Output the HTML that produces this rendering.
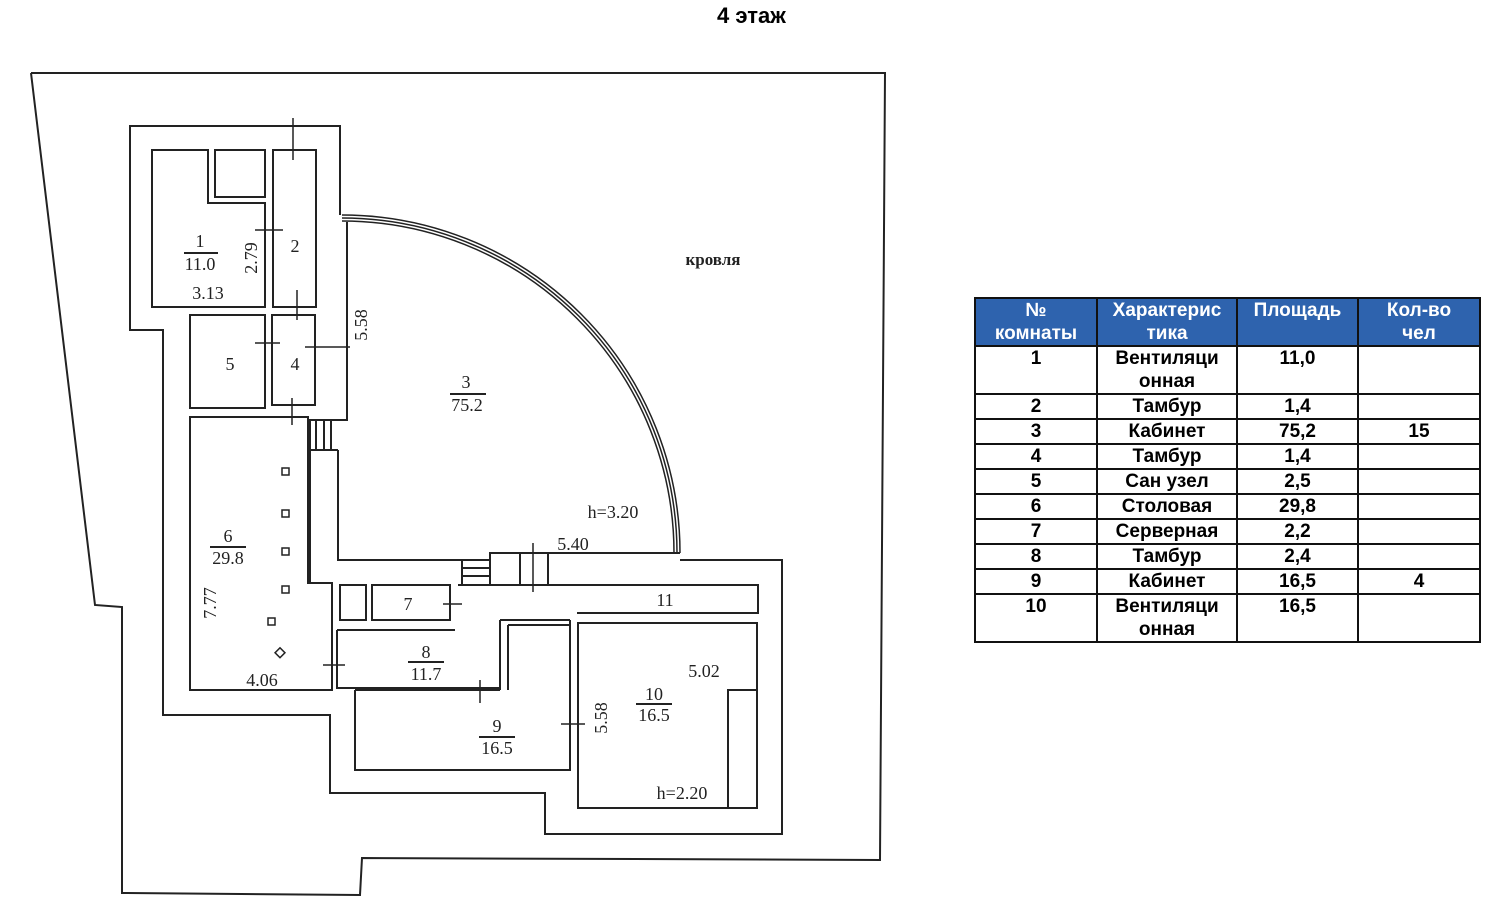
<!DOCTYPE html>
<html><head><meta charset="utf-8"><style>
body{margin:0;background:#fff;width:1500px;height:912px;position:relative;overflow:hidden;font-family:"Liberation Sans",sans-serif}
.t{position:absolute;left:717px;top:3px;font-weight:bold;font-size:22px}
table{position:absolute;left:974px;top:297px;border-collapse:collapse;table-layout:fixed;width:505px;font-weight:bold;font-size:19px;line-height:23px}
td{border:2px solid #111;text-align:center;vertical-align:top;padding:0;overflow:hidden;white-space:nowrap}
tr{height:24px}
tr.h td{background:#2e63ae;color:#fff}
tr.h,tr.b{height:48px}
</style></head><body>
<div class="t">4 этаж</div>
<svg width="1500" height="912" style="position:absolute;left:0;top:0" fill="none" stroke="#222" stroke-width="2" font-family="Liberation Serif" font-size="18">
<polyline points="31,73 885,73 880,860 362,858 360,895 122,893 122,607 95,605 31,73"/>
<path d="M340,215 V126 H130 V330 H163 V715 H330 V793 H545 V834 H782 V560 H680"/>
<path d="M342,215 A338,338 0 0 1 680,553 M342,221 A332,332 0 0 1 674,553 M342,218 A335,335 0 0 1 677,553" stroke-width="1.5"/>
<path d="M152,150 H208 V203 H265 V307 H152 Z M215,150 H265 V197 H215 Z M273,150 H316 V307 H273 Z M190,315 H265 V408 H190 Z M272,315 H315 V405 H272 Z"/>
<path d="M347,222 V420 H310 V450 H338 M310,420 V583 M338,450 V560 H490 V553 H680"/>
<path d="M316,420 V450 M324,420 V450 M331,420 V450 M462,560 V585 M462,568 H490 M462,576 H490 M490,553 V585 M520,553 V585 M548,553 V585"/>
<path d="M190,417 H308 V583 H332 V690 H190 Z"/>
<path d="M372,585 H450 V620 H372 Z M340,585 H366 V620 H340 Z M458,585 H758 V613 H577 M500,620 V690 M508,625 V690 M500,620 H570 M508,625 H570"/>
<path d="M337,630 H455 M337,630 V688 H500 M355,690 H500 M355,690 V770 H570 V620"/>
<path d="M578,623 H757 V808 H578 Z M728,690 H757 V808 H728 Z"/>
<path d="M293,118 V160 M255,230 H283 M297,290 V320 M255,343 H280 M305,347 H350 M292,398 V425 M533,543 V592 M443,604 H462 M323,665 H345 M480,680 V703 M561,724 H585" stroke-width="1.5"/>
<g fill="#222" stroke="none">
<text x="200" y="247" text-anchor="middle">1</text><text x="200" y="270" text-anchor="middle">11.0</text><path d="M184,253 H218" stroke="#222"/>
<text x="208" y="299" text-anchor="middle">3.13</text>
<text x="257" y="258" transform="rotate(-90 257 258)" text-anchor="middle">2.79</text>
<text x="295" y="252" text-anchor="middle">2</text>
<text x="230" y="370" text-anchor="middle">5</text><text x="295" y="370" text-anchor="middle">4</text>
<text x="367" y="325" transform="rotate(-90 367 325)" text-anchor="middle">5.58</text>
<text x="466" y="388" text-anchor="middle">3</text><text x="467" y="411" text-anchor="middle">75.2</text><path d="M450,394 H486" stroke="#222"/>
<text x="713" y="265" text-anchor="middle" font-size="17" font-weight="bold">кровля</text>
<text x="613" y="518" text-anchor="middle">h=3.20</text>
<text x="573" y="550" text-anchor="middle">5.40</text>
<text x="228" y="542" text-anchor="middle">6</text><text x="228" y="564" text-anchor="middle">29.8</text><path d="M210,547 H246" stroke="#222"/>
<text x="216" y="603" transform="rotate(-90 216 603)" text-anchor="middle">7.77</text>
<text x="262" y="686" text-anchor="middle">4.06</text>
<text x="408" y="610" text-anchor="middle">7</text><text x="665" y="606" text-anchor="middle">11</text>
<text x="426" y="658" text-anchor="middle">8</text><text x="426" y="680" text-anchor="middle">11.7</text><path d="M408,662 H444" stroke="#222"/>
<text x="497" y="732" text-anchor="middle">9</text><text x="497" y="754" text-anchor="middle">16.5</text><path d="M479,737 H515" stroke="#222"/>
<text x="607" y="718" transform="rotate(-90 607 718)" text-anchor="middle">5.58</text>
<text x="654" y="700" text-anchor="middle">10</text><text x="654" y="721" text-anchor="middle">16.5</text><path d="M636,704 H672" stroke="#222"/>
<text x="704" y="677" text-anchor="middle">5.02</text>
<text x="682" y="799" text-anchor="middle">h=2.20</text>
</g>
<rect x="282" y="468" width="7" height="7" stroke-width="1.5"/><rect x="282" y="510" width="7" height="7" stroke-width="1.5"/><rect x="282" y="548" width="7" height="7" stroke-width="1.5"/><rect x="282" y="586" width="7" height="7" stroke-width="1.5"/><rect x="268" y="618" width="7" height="7" stroke-width="1.5"/><rect x="277" y="649" width="7" height="7" stroke-width="1.5" transform="rotate(45 280 652)"/>
</svg>
<table>
<colgroup><col style="width:122px"><col style="width:140px"><col style="width:121px"><col style="width:122px"></colgroup>
<tr class="h"><td>№<br>комнаты</td><td>Характерис<br>тика</td><td>Площадь</td><td>Кол-во<br>чел</td></tr>
<tr class="b"><td>1</td><td>Вентиляци<br>онная</td><td>11,0</td><td></td></tr>
<tr><td>2</td><td>Тамбур</td><td>1,4</td><td></td></tr>
<tr><td>3</td><td>Кабинет</td><td>75,2</td><td>15</td></tr>
<tr><td>4</td><td>Тамбур</td><td>1,4</td><td></td></tr>
<tr><td>5</td><td>Сан узел</td><td>2,5</td><td></td></tr>
<tr><td>6</td><td>Столовая</td><td>29,8</td><td></td></tr>
<tr><td>7</td><td>Серверная</td><td>2,2</td><td></td></tr>
<tr><td>8</td><td>Тамбур</td><td>2,4</td><td></td></tr>
<tr><td>9</td><td>Кабинет</td><td>16,5</td><td>4</td></tr>
<tr class="b"><td>10</td><td>Вентиляци<br>онная</td><td>16,5</td><td></td></tr>
</table>
</body></html>
